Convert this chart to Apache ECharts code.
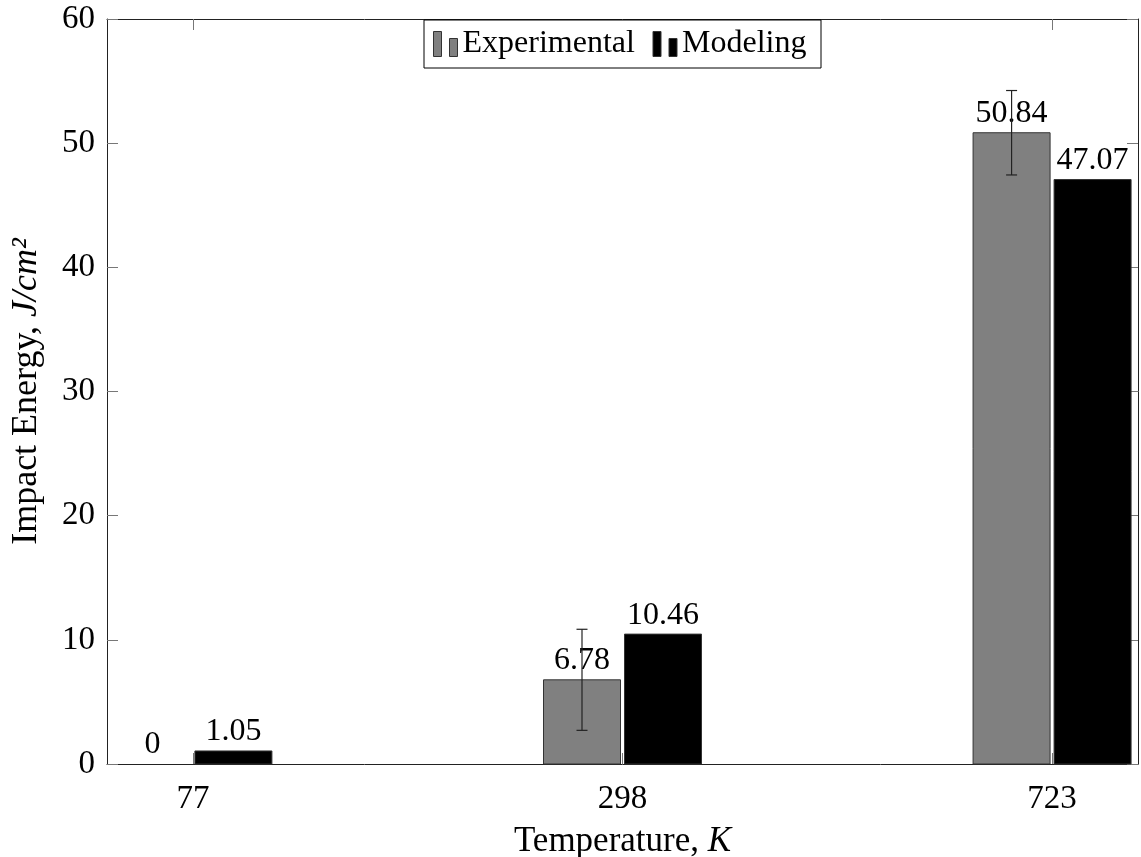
<!DOCTYPE html>
<html><head><meta charset="utf-8">
<script src="https://cdn.jsdelivr.net/npm/echarts@6/dist/echarts.min.js"></script>
<style>html,body{margin:0;padding:0;background:#fff}#c{width:1141px;height:857px}</style>
</head><body><div id="c"></div>
<script>
const categories = ['77', '298', '723'];
const experimental = [0, 6.78, 50.84];
const experimentalErr = [null, 4.07, 3.4];
const modeling = [1.05, 10.46, 47.07];
const yTicks = [0, 10, 20, 30, 40, 50, 60];

const FONT = 'Liberation Serif';
const FS = 32;       // value labels & legend
const TFS = 33;      // tick labels
const NFS_X = 35;    // x axis title
const NFS_Y = 36;    // y axis title
const BAR_W = 77;
const OFFSET = 40.5;

function barSeries(name, values, errs, sign, color) {
  return {
    type: 'custom', name: name, xAxisIndex: 0, yAxisIndex: 0,
    itemStyle: { color: color },
    data: values.map((v, i) => [i, v, errs ? errs[i] : null]),
    renderItem: function (params, api) {
      const i = api.value(0), v = api.value(1);
      const top = api.coord([i, v]);
      const base = api.coord([i, 0]);
      const cx = top[0] + sign * OFFSET;
      const children = [];
      if (base[1] - top[1] > 0.5) {
        children.push({
          type: 'rect',
          shape: { x: cx - BAR_W / 2, y: top[1], width: BAR_W, height: base[1] - top[1] },
          style: { fill: color, stroke: '#333', lineWidth: 1 }
        });
      }
      children.push({
        type: 'text',
        style: { text: String(v), x: cx, y: top[1] - 3, align: 'center', verticalAlign: 'bottom',
                 font: FS + 'px "' + FONT + '"', fill: '#000' }
      });
      const e = errs ? errs[i] : null;
      if (e != null) {
        const hi = api.coord([i, v + e]), lo = api.coord([i, v - e]);
        const st = { stroke: '#222', lineWidth: 1.2 };
        children.push({ type: 'line', shape: { x1: cx, y1: hi[1], x2: cx, y2: lo[1] }, style: st });
        children.push({ type: 'line', shape: { x1: cx - 5.5, y1: hi[1], x2: cx + 5.5, y2: hi[1] }, style: st });
        children.push({ type: 'line', shape: { x1: cx - 5.5, y1: lo[1], x2: cx + 5.5, y2: lo[1] }, style: st });
      }
      return { type: 'group', children: children };
    }
  };
}

const frameLine = { show: true, onZero: false, lineStyle: { color: '#222', width: 1 } };
const tickStyle = { show: true, inside: true, length: 11, lineStyle: { color: '#777', width: 1 } };
const catIdx = categories.map((c, i) => i);

const chart = echarts.init(document.getElementById('c'));
chart.setOption({
  animation: false,
  backgroundColor: '#fff',
  textStyle: { fontFamily: FONT },
  grid: { left: 107, right: 3, top: 19, bottom: 93, containLabel: false, outerBoundsMode: 'none' },
  legend: {
    left: 424, top: 20,
    orient: 'horizontal',
    borderColor: '#000', borderWidth: 1, backgroundColor: '#fff',
    padding: [8, 14, 8, 9],
    itemGap: 5, itemWidth: 24, itemHeight: 25,
    selectedMode: false,
    textStyle: { fontFamily: FONT, fontSize: FS, color: '#000', lineHeight: 32 },
    data: [
      { name: 'Experimental', icon: 'path://M0,0h8v25h-8zM16,7h8v18h-8z',
        itemStyle: { color: '#808080', borderColor: '#333', borderWidth: 1 },
        textStyle: { width: 185 } },
      { name: 'Modeling', icon: 'path://M0,0h8v25h-8zM16,7h8v18h-8z',
        itemStyle: { color: '#000', borderColor: '#333', borderWidth: 1 },
        textStyle: { width: 125 } }
    ]
  },
  xAxis: [
    {
      type: 'value', min: -0.2, max: 2.2, position: 'bottom',
      axisLine: frameLine,
      axisTick: Object.assign({ customValues: catIdx }, tickStyle),
      axisLabel: { customValues: catIdx, margin: 19, fontFamily: FONT, fontSize: TFS, color: '#000',
                   formatter: v => categories[Math.round(v)] },
      splitLine: { show: false },
      name: '{n|Temperature, }{i|K}', nameLocation: 'middle', nameGap: 60, nameMoveOverlap: false,
      nameTextStyle: {
        rich: { n: { fontFamily: FONT, fontSize: NFS_X, color: '#000' },
                i: { fontFamily: FONT, fontSize: NFS_X, fontStyle: 'italic', color: '#000' } } }
    },
    {
      type: 'value', min: -0.2, max: 2.2, position: 'top',
      axisLine: frameLine,
      axisTick: Object.assign({ customValues: catIdx }, tickStyle),
      axisLabel: { show: false }, splitLine: { show: false }
    }
  ],
  yAxis: [
    {
      type: 'value', min: yTicks[0], max: yTicks[yTicks.length - 1], interval: 10, position: 'left',
      axisLine: frameLine, axisTick: tickStyle,
      axisLabel: { margin: 12, fontFamily: FONT, fontSize: TFS, color: '#000', padding: [6, 0, 0, 0] },
      splitLine: { show: false },
      name: '{n|Impact Energy, }{i|J/cm²}', nameLocation: 'middle', nameGap: 62, nameMoveOverlap: false,
      nameTextStyle: {
        rich: { n: { fontFamily: FONT, fontSize: NFS_Y, color: '#000' },
                i: { fontFamily: FONT, fontSize: NFS_Y, fontStyle: 'italic', color: '#000' } } }
    },
    {
      type: 'value', min: yTicks[0], max: yTicks[yTicks.length - 1], interval: 10, position: 'right',
      axisLine: frameLine, axisTick: tickStyle,
      axisLabel: { show: false }, splitLine: { show: false }
    }
  ],
  series: [
    barSeries('Experimental', experimental, experimentalErr, -1, '#808080'),
    barSeries('Modeling', modeling, null, 1, '#000')
  ]
});
</script>
</body></html>
